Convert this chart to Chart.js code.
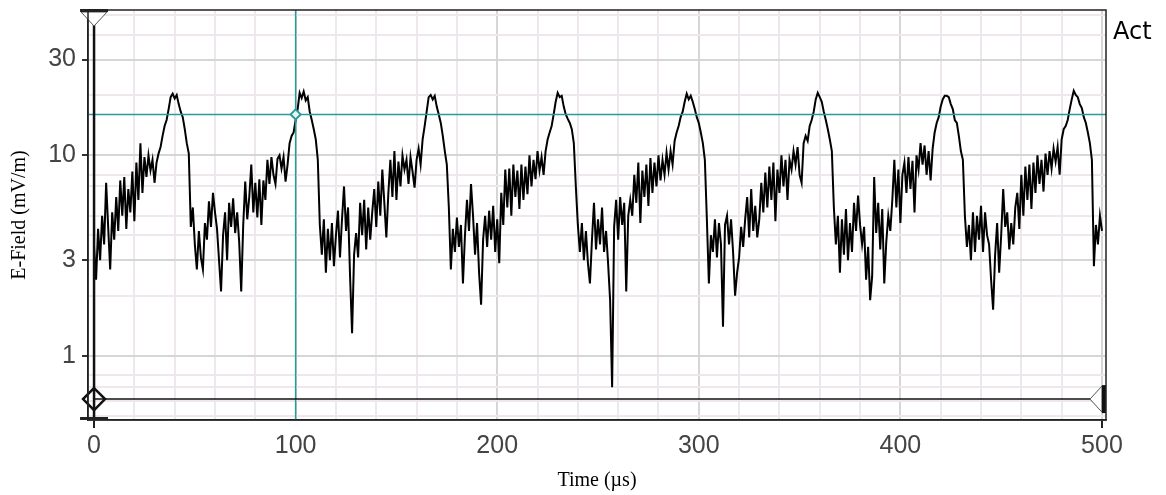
<!DOCTYPE html>
<html>
<head>
<meta charset="utf-8">
<script src="https://cdn.jsdelivr.net/npm/chart.js@4.4.1/dist/chart.umd.min.js"></script>
<style>
  html, body { margin: 0; padding: 0; background: #fff; }
  #wrap { width: 1166px; height: 495px; }
</style>
</head>
<body>
<div id="wrap"><canvas id="fieldChart" width="1166" height="495"></canvas></div>
<script>
// Sampling of the trace
const startTime = 0;   // µs
const sampleStep = 1;  // µs between samples

// E-field samples (mV/m), one per µs from 0 to 500
const eField = [
  3.5, 2.4, 4.3, 3.0, 5.0, 3.6, 7.3, 4.4, 2.7, 5.2,
  3.8, 6.2, 4.2, 7.5, 5.0, 7.8, 4.3, 6.8, 5.2, 8.3,
  4.7, 9.2, 6.0, 11.5, 6.5, 9.8, 7.8, 10.0, 8.4, 9.5,
  7.3, 9.2, 10.2, 11.0, 12.5, 14.0, 15.0, 17.0, 19.5, 20.3,
  19.2, 20.0, 18.0, 16.5, 15.5, 13.5, 11.5, 10.2, 4.4, 5.5,
  3.6, 2.7, 4.2, 3.1, 2.7, 4.6, 3.8, 5.9, 4.4, 6.5,
  5.2, 4.3, 3.0, 2.1, 4.0, 5.2, 3.0, 5.8, 4.4, 6.1,
  4.1, 5.2, 3.7, 2.1, 4.5, 7.4, 4.8, 6.2, 9.0, 5.2,
  7.3, 4.9, 7.6, 4.5, 7.5, 6.0, 9.5, 7.2, 9.8, 8.0,
  7.2, 9.6, 10.0, 8.6, 9.8, 7.4, 9.0, 11.5, 12.5, 13.0,
  15.0, 17.0, 20.5, 19.3, 20.8, 18.8, 19.5, 16.5, 15.0, 13.5,
  12.0, 9.5, 4.5, 3.2, 4.8, 2.6, 4.3, 3.0, 4.6, 2.8,
  4.0, 5.3, 3.1, 4.8, 7.0, 4.2, 5.5, 2.5, 1.3, 3.2,
  4.1, 3.1, 5.8, 4.0, 6.0, 3.4, 5.5, 3.8, 5.2, 6.8,
  4.4, 7.4, 5.0, 8.5, 5.8, 3.9, 6.5, 9.5, 6.2, 10.5,
  6.0, 9.3, 7.0, 10.0, 8.5, 9.5, 7.2, 9.8, 8.3, 6.9,
  9.5, 10.8, 9.0, 12.0, 14.0, 16.5, 19.5, 20.0, 19.0, 19.8,
  17.5, 16.0, 14.5, 12.5, 10.5, 9.0, 5.5, 2.7, 4.3, 3.3,
  4.9, 3.5, 4.5, 2.3, 4.0, 6.0, 4.2, 7.2, 5.0, 3.2,
  4.6, 2.6, 1.8, 3.8, 5.0, 3.5, 5.3, 3.8, 5.6, 3.3,
  4.8, 2.9, 6.5, 4.5, 8.5, 5.5, 8.6, 5.0, 9.0, 6.2,
  8.4, 5.4, 9.0, 6.0, 8.8, 6.4, 10.0, 7.0, 9.5, 7.6,
  10.5, 8.4, 9.8, 8.0, 10.5, 12.0, 13.0, 14.0, 16.0, 18.5,
  20.5, 19.5, 19.8, 17.5, 16.0, 15.2, 14.5, 13.5, 11.5, 7.0,
  4.5, 3.3, 4.6, 3.0, 4.2, 2.9, 2.3, 3.8, 5.8, 3.4,
  4.8, 3.6, 5.5, 3.3, 4.2, 2.9, 1.9, 0.70, 4.4, 6.0,
  3.8, 6.2, 4.5, 5.8, 2.1, 5.0, 6.0, 5.0, 8.0, 5.8,
  9.2, 4.6, 8.4, 6.2, 9.0, 5.6, 9.7, 6.5, 9.2, 7.0,
  10.0, 7.5, 9.5, 8.0, 10.3, 8.5, 10.5, 9.0, 11.8, 13.0,
  14.0, 15.5, 16.5, 18.5, 20.3, 19.0, 19.8, 18.5, 17.0, 15.5,
  14.5, 13.0, 11.5, 9.5, 4.8, 2.3, 4.0, 3.3, 4.8, 3.1,
  4.6, 3.6, 1.4, 4.5, 5.0, 3.6, 4.8, 3.3, 2.0, 2.6,
  3.1, 4.4, 3.5, 4.8, 6.2, 3.9, 6.8, 4.2, 5.6, 3.9,
  4.8, 7.3, 5.2, 8.2, 5.5, 8.8, 6.0, 9.2, 4.7, 8.5,
  6.5, 10.0, 7.0, 9.5, 6.0, 9.5, 8.5, 10.5, 9.0, 11.0,
  8.0, 7.3, 11.5, 12.5, 11.8, 14.0, 15.0, 16.5, 19.0, 20.5,
  19.5, 18.5, 16.5, 15.0, 13.5, 12.0, 10.5, 5.5, 3.6, 5.0,
  2.6, 4.8, 3.2, 5.4, 3.0, 4.6, 3.3, 5.8, 4.2, 6.3,
  4.5, 3.6, 4.4, 2.4, 3.5, 1.9, 2.5, 7.8, 4.1, 5.8,
  3.4, 5.4, 2.3, 3.7, 5.0, 4.2, 6.0, 9.5, 5.5, 8.5,
  4.6, 8.0, 9.2, 6.5, 9.8, 6.8, 9.4, 5.2, 10.0, 8.5,
  11.5, 9.0, 11.2, 8.0, 10.5, 7.5, 10.8, 13.0, 14.5, 15.5,
  17.5, 19.0, 19.8, 19.8, 19.5, 18.0, 17.0, 15.0, 14.5, 12.5,
  10.5, 9.5, 5.0, 3.5, 4.5, 3.0, 5.2, 3.3, 5.0, 3.8,
  5.6, 3.3, 5.2, 4.0, 3.6, 2.4, 1.7, 3.2, 4.6, 2.6,
  4.0, 6.8, 4.4, 5.2, 3.4, 4.6, 3.6, 5.5, 6.5, 4.3,
  8.0, 5.0, 8.8, 6.0, 9.0, 5.4, 9.2, 6.5, 10.0, 7.2,
  9.5, 6.6, 10.2, 8.0, 10.5, 8.6, 10.8, 9.3, 11.0, 8.0,
  12.0, 13.5, 14.0, 15.0, 17.0, 19.0, 21.0, 20.0, 19.5, 18.0,
  17.2, 15.5, 14.5, 13.0, 11.5, 9.5, 2.8, 4.5, 3.6, 5.0,
  4.2
];

// Axis ranges, grid and tick labels
const timeMin = -3;
const timeMax = 502;
const fieldMin = 0.48;
const fieldMax = 53;
const timeGrid = [0, 20, 40, 60, 80, 100, 120, 140, 160, 180, 200, 220, 240,
                  260, 280, 300, 320, 340, 360, 380, 400, 420, 440, 460, 480, 500];
const timeLabels = [0, 100, 200, 300, 400, 500];
const fieldGrid = [0.5, 0.6, 0.7, 0.8, 1, 2, 3, 4, 5, 7, 8, 10, 20, 30, 40, 50];
const fieldLabels = [1, 3, 10, 30];

// Cursor positions
const cursorTime = 100;     // teal cross-hair
const cursorField = 16;
const markerTime = 0;       // black marker lines
const markerField = 0.61;
const markerEndTime = 500;

const tickFont = { family: '"Liberation Sans", Arial, sans-serif', size: 25 };
const titleFont = { family: '"Liberation Serif", "Times New Roman", serif', size: 20 };

function strokeLine(ctx, x1, y1, x2, y2) {
    ctx.beginPath();
    ctx.moveTo(x1, y1);
    ctx.lineTo(x2, y2);
    ctx.stroke();
}

// Cursors, frame and the "Act" tag
const cursorPlugin = {
    id: 'cursors',
    afterDatasetsDraw(chart) {
        const { ctx, chartArea: a, scales: { x, y } } = chart;
        const cx = x.getPixelForValue(cursorTime);
        const cy = y.getPixelForValue(cursorField);
        const mx = x.getPixelForValue(markerTime);
        const my = y.getPixelForValue(markerField);
        const ex = x.getPixelForValue(markerEndTime);
        ctx.save();

        // teal cross-hair
        ctx.strokeStyle = '#2a9a9a';
        ctx.lineWidth = 1.5;
        strokeLine(ctx, a.left, cy, a.right, cy);
        strokeLine(ctx, cx, a.top, cx, a.bottom);
        ctx.beginPath();
        ctx.moveTo(cx, cy - 5); ctx.lineTo(cx + 5, cy); ctx.lineTo(cx, cy + 5); ctx.lineTo(cx - 5, cy);
        ctx.closePath();
        ctx.fillStyle = '#e6f4f4';
        ctx.fill();
        ctx.lineWidth = 2;
        ctx.stroke();

        // black marker lines
        ctx.strokeStyle = '#111';
        ctx.lineWidth = 2.5;
        strokeLine(ctx, mx, a.top, mx, a.bottom);
        ctx.lineWidth = 1.5;
        strokeLine(ctx, mx, my, ex, my);

        // diamond on the left end
        ctx.lineWidth = 2.5;
        ctx.beginPath();
        ctx.moveTo(mx, my - 11); ctx.lineTo(mx + 11, my); ctx.lineTo(mx, my + 11); ctx.lineTo(mx - 11, my);
        ctx.closePath();
        ctx.stroke();

        // left-pointing triangle on the right end
        ctx.lineWidth = 1;
        ctx.strokeStyle = '#555';
        ctx.fillStyle = '#fff';
        ctx.beginPath();
        ctx.moveTo(ex - 12, my); ctx.lineTo(ex, my - 13); ctx.lineTo(ex, my + 13);
        ctx.closePath();
        ctx.fill();
        ctx.stroke();
        ctx.fillStyle = '#111';
        ctx.fillRect(ex, my - 14, 4, 28);

        // down-pointing triangle on top of the marker
        ctx.beginPath();
        ctx.moveTo(mx - 13, a.top + 2); ctx.lineTo(mx + 13, a.top + 2); ctx.lineTo(mx, a.top + 16);
        ctx.closePath();
        ctx.fillStyle = '#fff';
        ctx.fill();
        ctx.stroke();
        ctx.fillStyle = '#222';
        ctx.fillRect(mx - 14, a.top - 1, 28, 3);
        ctx.fillRect(mx - 14, a.bottom - 3, 28, 3);

        // frame
        ctx.strokeStyle = '#222';
        ctx.lineWidth = 1.5;
        ctx.strokeRect(a.left, a.top, a.right - a.left, a.bottom - a.top);

        // tag
        ctx.fillStyle = '#000';
        ctx.font = '24px "DejaVu Sans", Verdana, sans-serif';
        ctx.textBaseline = 'top';
        ctx.textAlign = 'left';
        ctx.fillText('Act', a.right + 7, a.top + 11);
        ctx.restore();
    }
};

const fieldCtx = document.getElementById('fieldChart').getContext('2d');
const fieldChart = new Chart(fieldCtx, {
    type: 'line',
    data: {
        datasets: [{
            label: 'E-Field',
            data: eField.map((v, i) => ({ x: startTime + i * sampleStep, y: v })),
            borderColor: '#000',
            borderWidth: 2,
            pointRadius: 0,
            tension: 0,
            fill: false
        }]
    },
    options: {
        responsive: false,
        animation: false,
        devicePixelRatio: 1,
        layout: { padding: { top: 10, right: 60, left: 0, bottom: 0 } },
        plugins: {
            legend: { display: false },
            tooltip: { enabled: false }
        },
        scales: {
            x: {
                type: 'linear',
                min: timeMin,
                max: timeMax,
                afterBuildTicks: scale => { scale.ticks = timeGrid.map(v => ({ value: v })); },
                afterFit: scale => {
                    scale.height = 75;
                    scale.paddingLeft = 0;
                    scale.paddingRight = 0;
                },
                ticks: {
                    autoSkip: false,
                    maxRotation: 0,
                    padding: 3,
                    color: '#444',
                    font: tickFont,
                    callback: value => timeLabels.includes(value) ? String(value) : ''
                },
                grid: {
                    color: c => timeLabels.includes(c.tick.value) ? '#d6d6d6' : '#eee8ee',
                    lineWidth: 2,
                    tickLength: 8,
                    tickColor: c => (c.tick.value === 0 || c.tick.value === 500) ? '#222' : 'rgba(0,0,0,0)'
                },
                border: { display: true, color: '#222', width: 1.5 },
                title: {
                    display: true,
                    text: 'Time (µs)',
                    color: '#000',
                    font: titleFont,
                    padding: { top: 0, bottom: 2 }
                }
            },
            y: {
                type: 'logarithmic',
                min: fieldMin,
                max: fieldMax,
                afterBuildTicks: scale => { scale.ticks = fieldGrid.map(v => ({ value: v })); },
                afterFit: scale => {
                    scale.width = 88;
                    scale.paddingTop = 0;
                    scale.paddingBottom = 0;
                },
                ticks: {
                    autoSkip: false,
                    padding: 6,
                    color: '#444',
                    font: tickFont,
                    callback: value => fieldLabels.includes(value) ? String(value) : ''
                },
                grid: {
                    color: c => fieldLabels.includes(c.tick.value) ? '#d6d6d6' : '#eee8ee',
                    lineWidth: 2,
                    tickLength: 6,
                    tickColor: c => fieldLabels.includes(c.tick.value) ? '#333' : 'rgba(0,0,0,0)'
                },
                border: { display: true, color: '#222', width: 1.5 },
                title: {
                    display: true,
                    text: 'E-Field (mV/m)',
                    color: '#000',
                    font: titleFont,
                    padding: { top: 8, bottom: 0 }
                }
            }
        }
    },
    plugins: [cursorPlugin]
});
</script>
</body>
</html>
